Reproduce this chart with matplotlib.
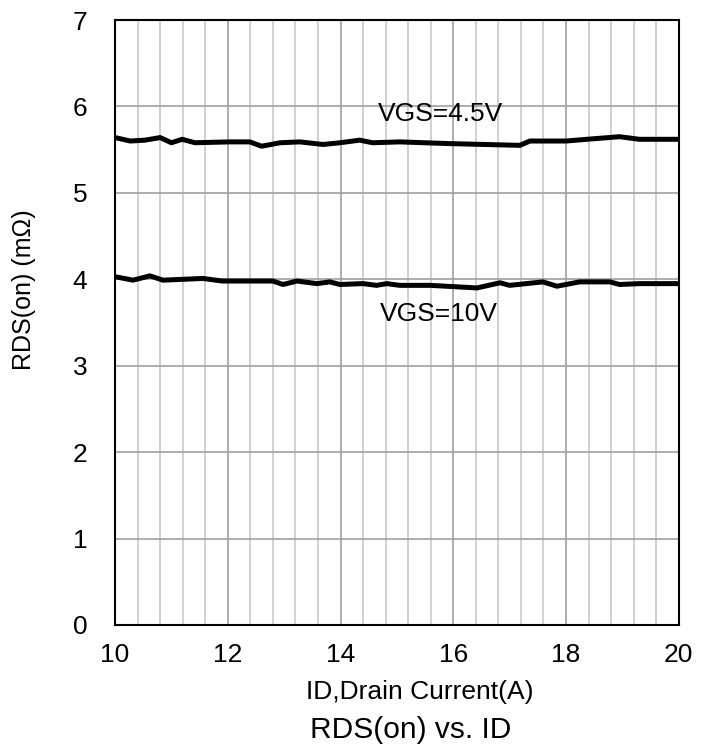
import numpy as np
import matplotlib
matplotlib.use("Agg")
import matplotlib.pyplot as plt
from matplotlib.ticker import MultipleLocator

plt.rcParams['font.family'] = ['Liberation Sans', 'DejaVu Sans']

# VGS=4.5V curve
id_45 = [10.0, 10.27, 10.53, 10.8, 11.0, 11.19, 11.42, 12.04, 12.39, 12.6, 12.93,
         13.28, 13.69, 13.99, 14.34, 14.57, 15.05, 15.94, 17.18, 17.36, 18.0,
         18.37, 18.95, 19.3, 20.0]
rds_45 = [5.64, 5.60, 5.61, 5.64, 5.58, 5.62, 5.58, 5.59, 5.59, 5.54, 5.58,
          5.59, 5.56, 5.58, 5.61, 5.58, 5.59, 5.57, 5.55, 5.60, 5.60,
          5.62, 5.65, 5.62, 5.62]

# VGS=10V curve
id_10 = [10.0, 10.32, 10.62, 10.85, 11.56, 11.9, 12.8, 12.98, 13.23, 13.58, 13.81,
         13.99, 14.4, 14.64, 14.82, 15.05, 15.59, 16.42, 16.83, 17.0, 17.59,
         17.84, 18.24, 18.78, 18.95, 19.3, 20.0]
rds_10 = [4.03, 3.99, 4.04, 3.99, 4.01, 3.98, 3.98, 3.94, 3.98, 3.95, 3.97,
          3.94, 3.95, 3.93, 3.95, 3.93, 3.93, 3.90, 3.96, 3.93, 3.97,
          3.92, 3.97, 3.97, 3.94, 3.95, 3.95]

W, H = 710, 756
fig = plt.figure(figsize=(W / 100, H / 100), dpi=100)
ax = fig.add_axes([0.162, 0.1733, 0.794, 0.8002])

ax.plot(id_45, rds_45, color='black', lw=3.6, solid_joinstyle='round', zorder=3)
ax.plot(id_10, rds_10, color='black', lw=3.6, solid_joinstyle='round', zorder=3)

ax.set_xlim(10, 20)
ax.set_ylim(0, 7)
ax.xaxis.set_major_locator(MultipleLocator(2))
ax.xaxis.set_minor_locator(MultipleLocator(0.4))
ax.yaxis.set_major_locator(MultipleLocator(1))

ax.grid(True, which='minor', axis='x', color='#c8c8c8', lw=1.2)
ax.grid(True, which='major', axis='x', color='#a0a0a0', lw=1.2)
ax.grid(True, which='major', axis='y', color='#a0a0a0', lw=1.2)
ax.set_axisbelow(True)

ax.tick_params(which='both', length=0)
ax.tick_params(axis='x', labelsize=19, pad=13)
ax.tick_params(axis='y', labelsize=19, pad=20)
for s in ax.spines.values():
    s.set_linewidth(1.5)

ax.text(15.78, 5.91, "VGS=4.5V", fontsize=19, ha='center', va='center')
ax.text(15.74, 3.60, "VGS=10V", fontsize=19, ha='center', va='center')

fig.text(24 / W, 1 - 290 / H, "RDS(on) (mΩ)", fontsize=18, rotation=90,
         ha='center', va='center')
fig.text(420 / W, 1 - 692 / H, "ID,Drain Current(A)", fontsize=19,
         ha='center', va='center')
fig.text(411 / W, 1 - 730 / H, "RDS(on) vs. ID", fontsize=21.5,
         ha='center', va='center')

fig.savefig("out.png", dpi=100)
